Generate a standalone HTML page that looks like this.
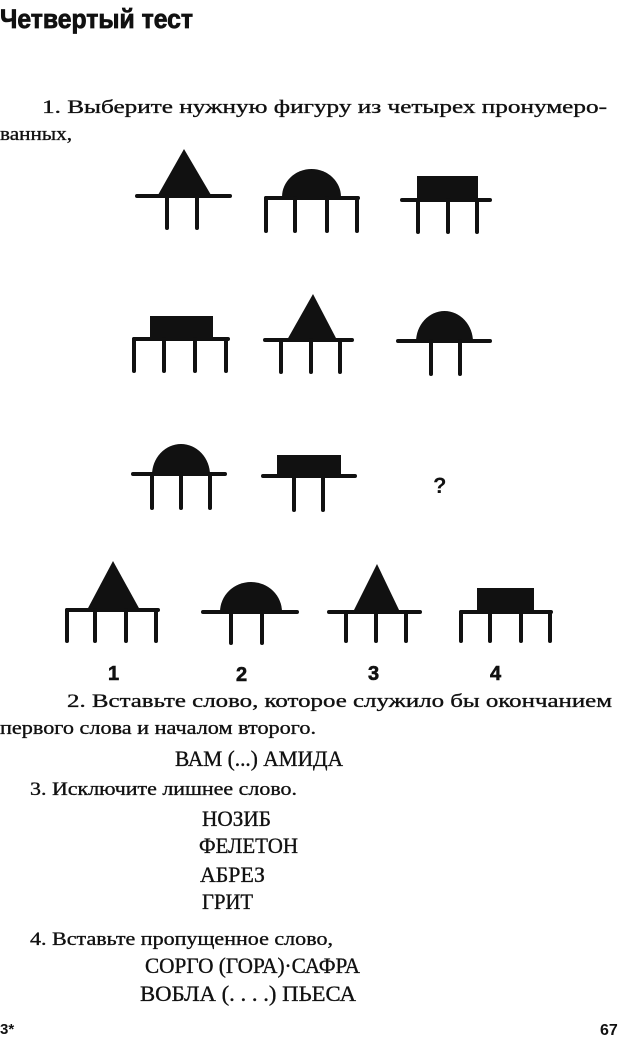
<!DOCTYPE html>
<html><head><meta charset="utf-8"><style>
html,body{margin:0;padding:0;background:#fff;width:620px;height:1041px;overflow:hidden}
svg{display:block}
.s{font-family:"Liberation Serif","DejaVu Serif",serif;fill:#111;stroke:#111;stroke-width:0.35}
.b{font-family:"Liberation Sans","DejaVu Sans",sans-serif;font-weight:bold;fill:#111}
</style></head><body>
<svg width="620" height="1041" viewBox="0 0 620 1041" xmlns="http://www.w3.org/2000/svg">
<g stroke="#111" stroke-width="4" stroke-linecap="round" fill="#111">
<polygon points="184,149 158,195 211,195" stroke="none"/>
<line x1="137" y1="196" x2="230" y2="196"/>
<line x1="167" y1="196" x2="167" y2="228"/><line x1="197" y1="196" x2="197" y2="228"/>

<path d="M282,197 A29.5,28 0 0 1 341,197 Z" stroke="none"/>
<line x1="266" y1="198" x2="358" y2="198"/>
<line x1="266" y1="198" x2="266" y2="231"/><line x1="295" y1="198" x2="295" y2="231"/><line x1="327" y1="198" x2="327" y2="231"/><line x1="357" y1="198" x2="357" y2="231"/>

<rect x="417" y="176" width="61" height="23" stroke="none"/>
<line x1="402" y1="200" x2="490" y2="200"/>
<line x1="418" y1="200" x2="418" y2="232"/><line x1="448" y1="200" x2="448" y2="232"/><line x1="477" y1="200" x2="477" y2="232"/>

<rect x="150" y="316" width="63" height="23" stroke="none"/>
<line x1="134" y1="339" x2="228" y2="339"/>
<line x1="134" y1="339" x2="134" y2="371"/><line x1="164" y1="339" x2="164" y2="371"/><line x1="195" y1="339" x2="195" y2="371"/><line x1="226" y1="339" x2="226" y2="371"/>

<polygon points="313,294 287,340 337,340" stroke="none"/>
<line x1="265" y1="340" x2="352" y2="340"/>
<line x1="281" y1="340" x2="281" y2="372"/><line x1="311" y1="340" x2="311" y2="372"/><line x1="340" y1="340" x2="340" y2="372"/>

<path d="M416,342 A28.5,31 0 0 1 473,342 Z" stroke="none"/>
<line x1="398" y1="341" x2="490" y2="341"/>
<line x1="431" y1="341" x2="431" y2="374"/><line x1="460" y1="341" x2="460" y2="374"/>

<path d="M152,475 A29,31 0 0 1 210,475 Z" stroke="none"/>
<line x1="133" y1="474" x2="225" y2="474"/>
<line x1="152" y1="474" x2="152" y2="508"/><line x1="181" y1="474" x2="181" y2="508"/><line x1="210" y1="474" x2="210" y2="508"/>

<rect x="277" y="455" width="64" height="21" stroke="none"/>
<line x1="263" y1="476" x2="355" y2="476"/>
<line x1="294" y1="476" x2="294" y2="510"/><line x1="323" y1="476" x2="323" y2="510"/>

<polygon points="113,561 87,610 140,610" stroke="none"/>
<line x1="67" y1="610" x2="158" y2="610"/>
<line x1="67" y1="610" x2="67" y2="641"/><line x1="95" y1="610" x2="95" y2="641"/><line x1="126" y1="610" x2="126" y2="641"/><line x1="156" y1="610" x2="156" y2="641"/>

<path d="M220,612 A31,30 0 0 1 282,612 Z" stroke="none"/>
<line x1="203" y1="612" x2="297" y2="612"/>
<line x1="231" y1="612" x2="231" y2="643"/><line x1="262" y1="612" x2="262" y2="643"/>

<polygon points="377,564 353,612 400,612" stroke="none"/>
<line x1="329" y1="612" x2="420" y2="612"/>
<line x1="346" y1="612" x2="346" y2="641"/><line x1="376" y1="612" x2="376" y2="641"/><line x1="406" y1="612" x2="406" y2="641"/>

<rect x="477" y="588" width="57" height="24" stroke="none"/>
<line x1="461" y1="612" x2="551" y2="612"/>
<line x1="461" y1="612" x2="461" y2="641"/><line x1="490" y1="612" x2="490" y2="641"/><line x1="521" y1="612" x2="521" y2="641"/><line x1="550" y1="612" x2="550" y2="641"/>
</g>

<text class="b" x="0" y="28" font-size="27" stroke="#111" stroke-width="0.8" textLength="193" lengthAdjust="spacingAndGlyphs">Четвертый тест</text>
<text class="s" x="42" y="113" font-size="19" textLength="565" lengthAdjust="spacingAndGlyphs">1. Выберите нужную фигуру из четырех пронумеро-</text>
<text class="s" x="0" y="140" font-size="19" textLength="72" lengthAdjust="spacingAndGlyphs">ванных,</text>
<text class="b" x="433" y="493" font-size="22">?</text>
<text class="b" x="108" y="680" font-size="20" stroke="#111" stroke-width="0.6">1</text>
<text class="b" x="236" y="681" font-size="20" stroke="#111" stroke-width="0.6">2</text>
<text class="b" x="368" y="680" font-size="20" stroke="#111" stroke-width="0.6">3</text>
<text class="b" x="490" y="680" font-size="20" stroke="#111" stroke-width="0.6">4</text>

<text class="s" x="67" y="707" font-size="19" textLength="545" lengthAdjust="spacingAndGlyphs">2. Вставьте слово, которое служило бы окончанием</text>
<text class="s" x="0" y="734" font-size="19" textLength="316" lengthAdjust="spacingAndGlyphs">первого слова и началом второго.</text>
<text class="s" x="175" y="766" font-size="22" textLength="168" lengthAdjust="spacingAndGlyphs">ВАМ (...) АМИДА</text>
<text class="s" x="30" y="795" font-size="19" textLength="267" lengthAdjust="spacingAndGlyphs">3. Исключите лишнее слово.</text>
<text class="s" x="202" y="826" font-size="22" textLength="69" lengthAdjust="spacingAndGlyphs">НОЗИБ</text>
<text class="s" x="199" y="853" font-size="22" textLength="99" lengthAdjust="spacingAndGlyphs">ФЕЛЕТОН</text>
<text class="s" x="200" y="882" font-size="22" textLength="65" lengthAdjust="spacingAndGlyphs">АБРЕЗ</text>
<text class="s" x="202" y="909" font-size="22" textLength="51" lengthAdjust="spacingAndGlyphs">ГРИТ</text>
<text class="s" x="30" y="945" font-size="19" textLength="303" lengthAdjust="spacingAndGlyphs">4. Вставьте пропущенное слово,</text>
<text class="s" x="145" y="973" font-size="22" textLength="215" lengthAdjust="spacingAndGlyphs">СОРГО (ГОРА)·САФРА</text>
<text class="s" x="140" y="1001" font-size="22" textLength="216" lengthAdjust="spacingAndGlyphs">ВОБЛА (. . . .) ПЬЕСА</text>
<text class="b" x="0" y="1034" font-size="15">3*</text>
<text class="b" x="600" y="1035" font-size="16">67</text>
</svg>
</body></html>
